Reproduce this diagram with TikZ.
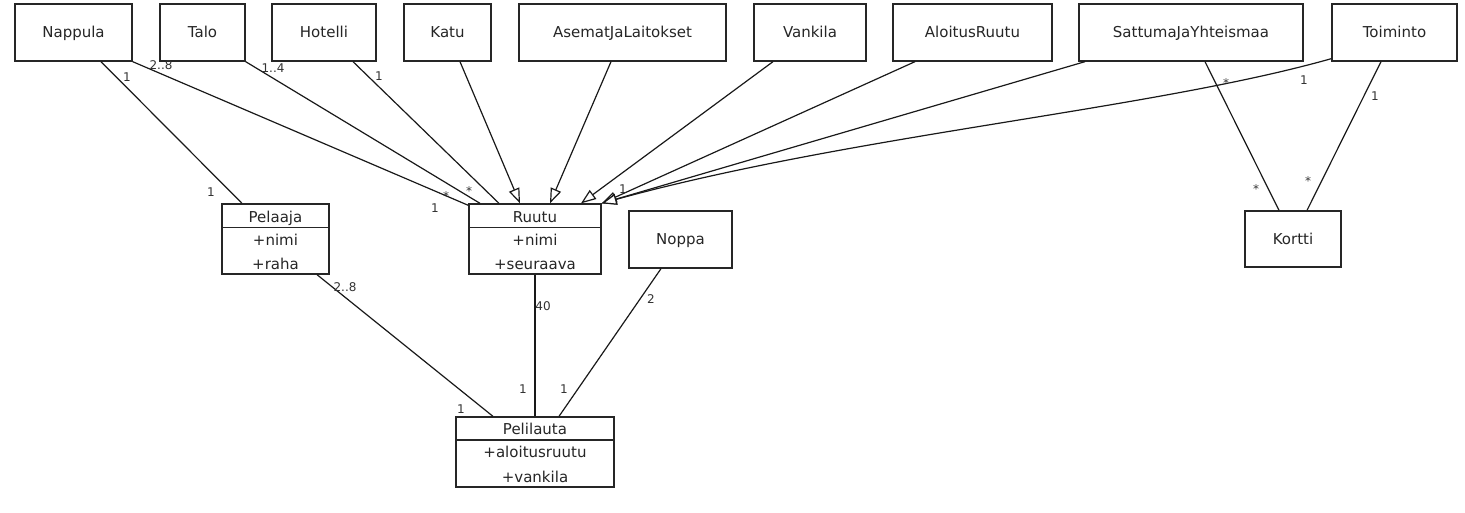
\documentclass[tikz,border=0pt]{standalone}
\usepackage{fontspec}
\setmainfont{DejaVu Sans}
\usetikzlibrary{arrows.meta,calc}
\tikzset{
  box/.style={draw=black!85, line width=1.3pt, fill=white, inner sep=0pt, text height=10.5pt, text depth=0pt, text=black!85, font=\fontsize{15}{18}\selectfont},
  cls/.style={draw=black!85, line width=1.3pt, fill=white, inner sep=0pt},
  txt/.style={inner sep=0pt, text height=10.5pt, text depth=0pt, text=black!85, font=\fontsize{15}{18}\selectfont},
  lbl/.style={inner sep=0pt, font=\fontsize{12}{14}\selectfont, text=black!80},
  assoc/.style={line width=1.2pt, draw=black!90},
  gen/.style={line width=1.2pt, draw=black!90, -{Triangle[length=15pt,width=11pt,fill=white]}}
}
\begin{document}
\begin{tikzpicture}[x=1pt,y=-1pt]
\useasboundingbox (0,0) rectangle (1465,512);
% top row
\node[box, minimum width=117pt, minimum height=57pt] (nappula) at (73.5,32.5) {Nappula};
\node[box, minimum width=85pt, minimum height=57pt] (talo) at (202.5,32.5) {Talo};
\node[box, minimum width=104pt, minimum height=57pt] (hotelli) at (324,32.5) {Hotelli};
\node[box, minimum width=87pt, minimum height=57pt] (katu) at (447.5,32.5) {Katu};
\node[box, minimum width=207pt, minimum height=57pt] (asemat) at (622.5,32.5) {AsematJaLaitokset};
\node[box, minimum width=112pt, minimum height=57pt] (vankila) at (810,32.5) {Vankila};
\node[box, minimum width=159pt, minimum height=57pt] (aloitus) at (972.5,32.5) {AloitusRuutu};
\node[box, minimum width=224pt, minimum height=57pt] (sattuma) at (1191,32.5) {SattumaJaYhteismaa};
\node[box, minimum width=125pt, minimum height=57pt] (toiminto) at (1394.5,32.5) {Toiminto};
% middle
\node[box, minimum width=96pt, minimum height=56pt] (kortti) at (1293,239) {Kortti};
\node[box, minimum width=103pt, minimum height=57pt] (noppa) at (680.5,239.5) {Noppa};
\node[cls, minimum width=107pt, minimum height=70pt] (pelaaja) at (275.5,239) {};
\draw[line width=1.3pt, black!85] ([yshift=-24pt]pelaaja.north west) -- ([yshift=-24pt]pelaaja.north east);
\node[txt] (pelaajaT) at (275.5,217) {Pelaaja};
\node[txt] (pelaajaA) at (275.5,240.5) {+nimi};
\node[txt] (pelaajaB) at (275.5,264) {+raha};
\node[cls, minimum width=132pt, minimum height=70pt] (ruutu) at (535,239) {};
\draw[line width=1.3pt, black!85] ([yshift=-24pt]ruutu.north west) -- ([yshift=-24pt]ruutu.north east);
\node[txt] (ruutuT) at (535,217) {Ruutu};
\node[txt] (ruutuA) at (535,240.5) {+nimi};
\node[txt] (ruutuB) at (535,264) {+seuraava};
\node[cls, minimum width=158pt, minimum height=70pt] (pelilauta) at (535,452) {};
\draw[line width=1.3pt, black!85] ([yshift=-23.5pt]pelilauta.north west) -- ([yshift=-23.5pt]pelilauta.north east);
\node[txt] (pelilautaT) at (535,429) {Pelilauta};
\node[txt] (pelilautaA) at (535,452.5) {+aloitusruutu};
\node[txt] (pelilautaB) at (535,477) {+vankila};
% associations
\draw[assoc] ([xshift=27.5pt]nappula.south) -- ([xshift=-33.5pt]pelaaja.north);
\draw[assoc] (nappula.south east) -- ([yshift=-2pt]ruutu.north west);
\draw[assoc] (talo.south east) -- ([xshift=-55pt]ruutu.north);
\draw[assoc] ([xshift=29pt]hotelli.south) -- ([xshift=-36pt]ruutu.north);
\draw[assoc] ([xshift=14pt]sattuma.south) -- ([xshift=-14pt]kortti.north);
\draw[assoc] ([xshift=-13.5pt]toiminto.south) -- ([xshift=14pt]kortti.north);
\draw[assoc] ([xshift=41.5pt]pelaaja.south) -- ([xshift=-42pt]pelilauta.north);
\draw[assoc] (ruutu.south) -- (pelilauta.north);
\draw[assoc] ([xshift=-19.5pt]noppa.south) -- ([xshift=24pt]pelilauta.north);
% generalizations
\draw[gen] ([xshift=12.5pt]katu.south) -- ([xshift=-15pt]ruutu.north);
\draw[gen] ([xshift=-11.5pt]asemat.south) -- ([xshift=15pt]ruutu.north);
\draw[gen] ([xshift=-37pt]vankila.south) -- ([xshift=46pt]ruutu.north);
\draw[gen] ([xshift=-57.5pt]aloitus.south) -- (ruutu.north east);
\draw[gen] ([xshift=-106pt]sattuma.south) -- (ruutu.north east);
\draw[gen] ([yshift=3pt]toiminto.south west) .. controls (1150,110) and (850,135) .. (ruutu.north east);
% multiplicity labels
\node[lbl] (l1) at (127,77) {1};
\node[lbl] (l2) at (211,192) {1};
\node[lbl] (l3) at (161,65) {2..8};
\node[lbl] (l4) at (446,196) {*};
\node[lbl] (l5) at (435,208) {1};
\node[lbl] (l6) at (273,68) {1..4};
\node[lbl] (l7) at (469,191) {*};
\node[lbl] (l8) at (379,76) {1};
\node[lbl] (l9) at (623,189) {1};
\node[lbl] (l10) at (1304,80) {1};
\node[lbl] (l11) at (1226,83) {*};
\node[lbl] (l12) at (1256,189) {*};
\node[lbl] (l13) at (1375,96) {1};
\node[lbl] (l14) at (1308,181) {*};
\node[lbl] (l15) at (345,287) {2..8};
\node[lbl] (l16) at (461,409) {1};
\node[lbl] (l17) at (543,306) {40};
\node[lbl] (l18) at (523,389) {1};
\node[lbl] (l19) at (564,389) {1};
\node[lbl] (l20) at (651,299) {2};
\end{tikzpicture}
\end{document}
